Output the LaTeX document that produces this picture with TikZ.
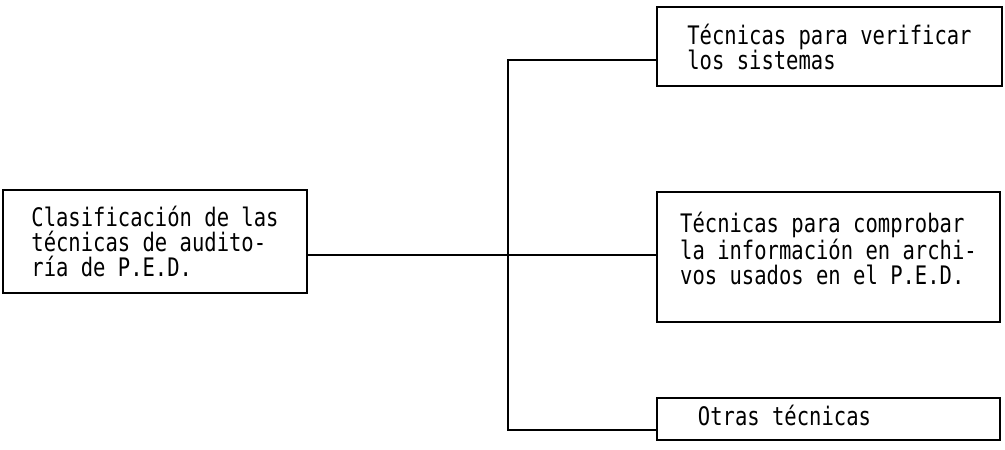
\documentclass[tikz,border=0pt]{standalone}
\usepackage{fontspec}
\setmonofont[FakeStretch=0.805,WordSpace={1,0,0}]{DejaVu Sans Mono}
\usetikzlibrary{positioning,calc}
\newcommand{\typefont}{\ttfamily\fontsize{25.5}{25}\selectfont}
\newcommand{\depthpad}[1]{\rule[-#1]{0pt}{#1}}

\begin{document}
\begin{tikzpicture}[
  x=1pt, y=1pt,
  techbox/.style={rectangle, draw=black, line width=1.8pt, align=left,
    font=\typefont, inner sep=0pt},
  link/.style={line width=1.8pt, draw=black}
]
\useasboundingbox (0,0) rectangle (1005,450);

% Root box on the left
\node[techbox, minimum width=304pt, minimum height=103pt] (clasif) at (155,208.5)
  {Clasificación de las\\técnicas de audito-\\ría de P.E.D.};

% The three branches on the right
\node[techbox, minimum width=345pt, minimum height=79pt] (verif) at (829.5,403.5)
  {Técnicas para verificar\\los sistemas};
\node[techbox, minimum width=343pt, minimum height=130pt] (comprob) at (828.5,193)
  {Técnicas para comprobar\\la información en archi-\\vos usados en el P.E.D.\depthpad{18pt}};
\node[techbox, minimum width=343pt, minimum height=42pt] (otras) at (828.5,31)
  {Otras técnicas\depthpad{8pt}\hspace*{88pt}};

% Trunk and branches
\coordinate (hub) at (508,195);
\coordinate (trunktop) at (508,390);
\coordinate (trunkbot) at (508,20);
\draw[link] (clasif.east |- hub) -- (comprob.west |- hub);
\draw[link] (verif.west |- trunktop) -- (trunktop) -- (trunkbot) -- (otras.west |- trunkbot);

\end{tikzpicture}
\end{document}
